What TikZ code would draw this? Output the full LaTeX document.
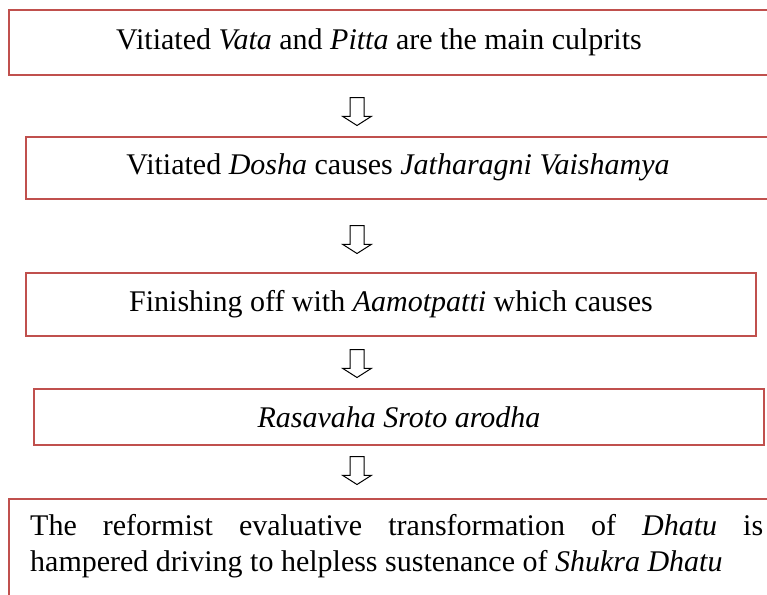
\documentclass[tikz,border=0pt]{standalone}
\usepackage{fontspec}
\setmainfont{Liberation Serif}
\usepackage{tikz}
\usetikzlibrary{calc,positioning,shapes.arrows}
\definecolor{culprit}{HTML}{C0504D}
\tikzset{
  stage/.style={draw=culprit, line width=2pt, inner sep=0pt, anchor=north west, align=center,
    font=\fontsize{30}{36}\selectfont},
  stagetext/.style={inner sep=0pt, font=\fontsize{30}{36}\selectfont},
  downarrow/.style={single arrow, draw=black, fill=white, line width=1pt, shape border rotate=270,
    minimum height=28pt, single arrow head extend=7.5pt,
    single arrow tip angle=115, single arrow head indent=0pt, inner sep=6.5pt,
    anchor=tail}
}
\begin{document}
\begin{tikzpicture}[x=1pt,y=-1pt]
  \useasboundingbox (0,0) rectangle (767,594);
  \clip (0,0) rectangle (767,594);

  % boxes
  \node[stage, minimum width=800pt, minimum height=65pt] (vata) at (8,9) {};
  \node[stage, minimum width=800pt, minimum height=62pt] (dosha) at (25,136) {};
  \node[stage, minimum width=730pt, minimum height=63pt] (aamo) at (25,272)
    {Finishing off with \textit{Aamotpatti} which causes};
  \node[stage, minimum width=730pt, minimum height=56pt] (sroto) at (33,388)
    {\textit{Rasavaha Sroto arodha}};
  \node[stage, minimum width=800pt, minimum height=130pt] (dhatu) at (8,498) {};

  % texts of the cut boxes
  \node[stagetext] (vatatext) at (379,42) {Vitiated \textit{Vata} and \textit{Pitta} are the main culprits};
  \node[stagetext] (doshatext) at (398,167) {Vitiated \textit{Dosha} causes \textit{Jatharagni Vaishamya}};
  \node[stagetext, text width=733pt, align=justify, anchor=north west] (dhatutext) at (30,514)
    {The reformist evaluative transformation of \textit{Dhatu} is\linebreak
     hampered driving to helpless sustenance of \textit{Shukra Dhatu}};

  % arrows
  \node[downarrow] (a1) at (357,97) {};
  \node[downarrow] (a2) at (357,225) {};
  \node[downarrow] (a3) at (357,349) {};
  \node[downarrow] (a4) at (357,456) {};
\end{tikzpicture}
\end{document}
